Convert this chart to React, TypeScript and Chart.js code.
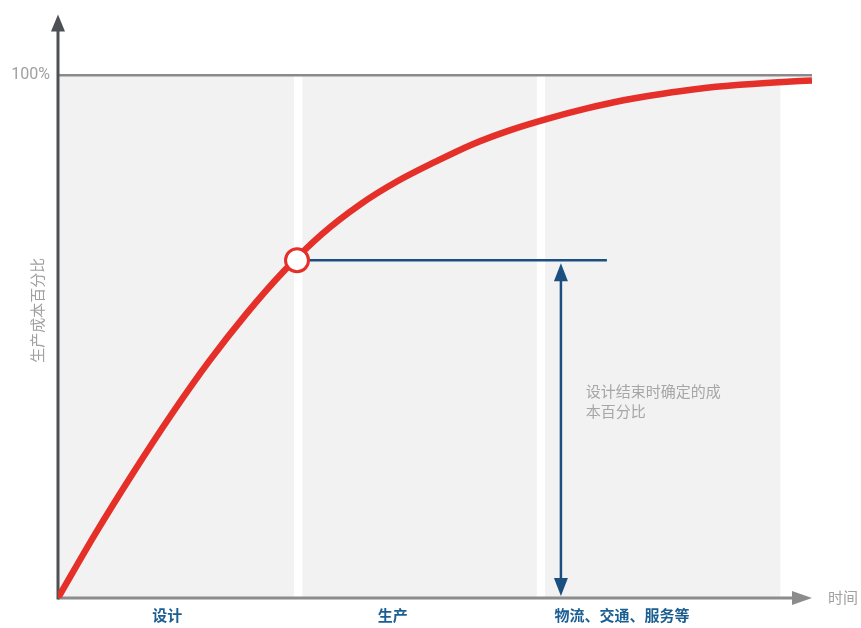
import React, { useEffect, useRef } from "react";
import { Chart, registerables } from "chart.js";

Chart.register(...registerables);

// time axis (0–100 %) and cumulative share of production cost fixed (%)
const timeX = [0, 5, 10, 15, 20, 25, 30, 35, 40, 45, 50, 55, 60, 65, 70, 75, 80, 85, 90, 95, 100];
const costPct = [0, 12.4, 24.0, 35.0, 45.2, 54.4, 62.6, 69.6, 75.2, 79.7, 83.4, 86.8, 89.5, 91.7, 93.6, 95.2, 96.4, 97.4, 98.1, 98.6, 99.0];

// phases
const stageNames = ["设计", "生产", "物流、交通、服务等"];
const stageStart = [0, 32.4, 64.6];
const stageEnd = [31.3, 63.5, 95.8];
const stageLabelX = [14.5, 44.4, 74.8];

// end of design point
const designEndX = 31.7;
const designEndPct = 64.6;
const guideEndX = 72.8;
const arrowX = 66.7;

const yTickLabel = "100%";
const yTitle = "生产成本百分比";
const xTitle = "时间";
const noteLines = ["设计结束时确定的成", "本百分比"];
const noteX = 70.0;
const notePct = [39.2, 35.4];

const FONT = "Roboto, 'Noto Sans CJK SC', sans-serif";

const drawPlugin = {
  id: "customDraw",
  beforeDatasetsDraw(chart: any) {
    const { ctx, chartArea, scales } = chart;
    const xs = scales.x;
    const ys = scales.y;
    const top100 = ys.getPixelForValue(100);
    const base = ys.getPixelForValue(0);
    ctx.save();
    // bands
    ctx.fillStyle = "#f2f2f2";
    for (let i = 0; i < stageStart.length; i++) {
      const a = xs.getPixelForValue(stageStart[i]);
      const b = xs.getPixelForValue(stageEnd[i]);
      ctx.fillRect(a, top100, b - a, base - top100);
    }
    // 100% line
    ctx.strokeStyle = "#8a8a8a";
    ctx.lineWidth = 2.5;
    ctx.beginPath();
    ctx.moveTo(xs.getPixelForValue(0), top100);
    ctx.lineTo(chartArea.right, top100);
    ctx.stroke();
    // x axis
    const x0 = xs.getPixelForValue(0);
    ctx.strokeStyle = "#8c8c8c";
    ctx.fillStyle = "#8c8c8c";
    ctx.lineWidth = 3;
    ctx.beginPath();
    ctx.moveTo(x0, base);
    ctx.lineTo(chartArea.right - 18, base);
    ctx.stroke();
    ctx.beginPath();
    ctx.moveTo(chartArea.right, base);
    ctx.lineTo(chartArea.right - 20, base - 7);
    ctx.lineTo(chartArea.right - 20, base + 7);
    ctx.closePath();
    ctx.fill();
    // y axis
    ctx.strokeStyle = "#4d5055";
    ctx.fillStyle = "#4d5055";
    ctx.beginPath();
    ctx.moveTo(x0, base + 1.5);
    ctx.lineTo(x0, chartArea.top + 15);
    ctx.stroke();
    ctx.beginPath();
    ctx.moveTo(x0, chartArea.top);
    ctx.lineTo(x0 - 7, chartArea.top + 17);
    ctx.lineTo(x0 + 7, chartArea.top + 17);
    ctx.closePath();
    ctx.fill();
    // guide line
    ctx.strokeStyle = "#1a4f80";
    ctx.lineWidth = 2.5;
    ctx.beginPath();
    ctx.moveTo(xs.getPixelForValue(designEndX), ys.getPixelForValue(designEndPct));
    ctx.lineTo(xs.getPixelForValue(guideEndX), ys.getPixelForValue(designEndPct));
    ctx.stroke();
    ctx.restore();
  },
  afterDatasetsDraw(chart: any) {
    const { ctx, chartArea, scales } = chart;
    const xs = scales.x;
    const ys = scales.y;
    const base = ys.getPixelForValue(0);
    ctx.save();
    // vertical double arrow
    const ax = xs.getPixelForValue(arrowX);
    const t = ys.getPixelForValue(designEndPct) + 3;
    const b = base - 2;
    ctx.strokeStyle = "#1a4f80";
    ctx.fillStyle = "#1a4f80";
    ctx.lineWidth = 2.5;
    ctx.beginPath();
    ctx.moveTo(ax, t + 15);
    ctx.lineTo(ax, b - 15);
    ctx.stroke();
    ctx.beginPath();
    ctx.moveTo(ax, t);
    ctx.lineTo(ax - 7, t + 18);
    ctx.lineTo(ax + 7, t + 18);
    ctx.closePath();
    ctx.fill();
    ctx.beginPath();
    ctx.moveTo(ax, b);
    ctx.lineTo(ax - 7, b - 18);
    ctx.lineTo(ax + 7, b - 18);
    ctx.closePath();
    ctx.fill();

    // texts
    const x0 = xs.getPixelForValue(0);
    ctx.fillStyle = "#a0a0a0";
    ctx.font = `16px ${FONT}`;
    ctx.textAlign = "right";
    ctx.textBaseline = "middle";
    ctx.fillText(yTickLabel, x0 - 8, ys.getPixelForValue(100));

    ctx.font = `15px ${FONT}`;
    ctx.textAlign = "left";
    ctx.fillText(xTitle, chartArea.right + 16, base + 1);

    ctx.save();
    ctx.translate(x0 - 19, (ys.getPixelForValue(0) + ys.getPixelForValue(111.6)) / 2 + 4);
    ctx.rotate(-Math.PI / 2);
    ctx.textAlign = "center";
    ctx.font = `15px ${FONT}`;
    ctx.fillText(yTitle, 0, 0);
    ctx.restore();

    ctx.fillStyle = "#a6a6a6";
    ctx.font = `15px ${FONT}`;
    ctx.textAlign = "left";
    for (let i = 0; i < noteLines.length; i++) {
      ctx.fillText(noteLines[i], xs.getPixelForValue(noteX), ys.getPixelForValue(notePct[i]));
    }

    ctx.fillStyle = "#1a5e92";
    ctx.font = `bold 15px ${FONT}`;
    ctx.textAlign = "center";
    for (let i = 0; i < stageNames.length; i++) {
      ctx.fillText(stageNames[i], xs.getPixelForValue(stageLabelX[i]), base + 19);
    }
    ctx.restore();
  },
};

export default function App() {
  const ref = useRef<HTMLCanvasElement | null>(null);
  useEffect(() => {
    if (!ref.current) return;
    const chart = new Chart(ref.current, {
      type: "line",
      data: {
        datasets: [
          {
            label: "marker",
            data: [{ x: designEndX, y: designEndPct }],
            showLine: false,
            pointRadius: 11.5,
            pointBackgroundColor: "#ffffff",
            pointBorderColor: "#e5302a",
            pointBorderWidth: 3,
            order: 1,
          },
          {
            label: "cost",
            data: timeX.map((x, i) => ({ x, y: costPct[i] })),
            borderColor: "#e5302a",
            borderWidth: 6.5,
            pointRadius: 0,
            cubicInterpolationMode: "monotone",
            fill: false,
            order: 2,
          },
        ],
      },
      options: {
        responsive: false,
        animation: false,
        devicePixelRatio: 1,
        layout: { padding: { left: 58, right: 49, top: 12, bottom: 30 } },
        plugins: { legend: { display: false }, tooltip: { enabled: false } },
        scales: {
          x: { type: "linear", min: 0, max: 100, display: false },
          y: { type: "linear", min: 0, max: 111.6, display: false },
        },
      },
      plugins: [drawPlugin],
    } as any);
    return () => chart.destroy();
  }, []);
  return (
    <div style={{ position: "absolute", left: 0, top: 0, width: 861, height: 628, background: "#fff" }}>
      <canvas ref={ref} width={861} height={628} />
    </div>
  );
}
